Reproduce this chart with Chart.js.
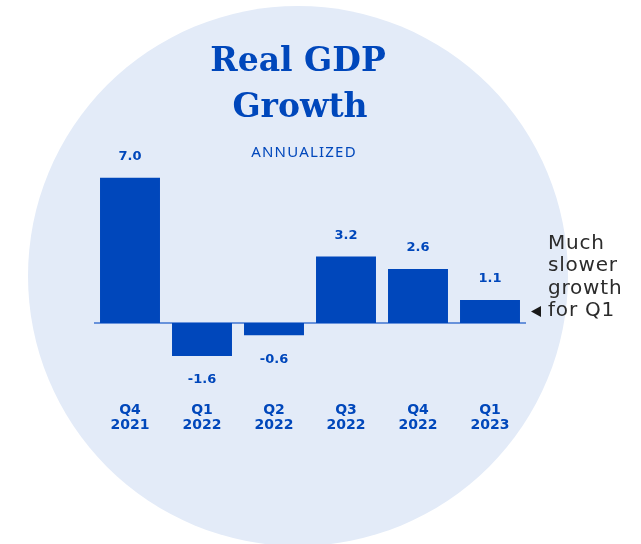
<!DOCTYPE html>
<html>
<head>
<meta charset="utf-8">
<script src="https://cdn.jsdelivr.net/npm/chart.js@4.4.1/dist/chart.umd.min.js"></script>
<style>
  html, body { margin: 0; padding: 0; background: #ffffff; }
  #wrap { width: 641px; height: 544px; }
</style>
</head>
<body>
<div id="wrap"><canvas id="gdpChart" width="641" height="544"></canvas></div>
<script>
// data
const quarters = [["Q4", "2021"], ["Q1", "2022"], ["Q2", "2022"], ["Q3", "2022"], ["Q4", "2022"], ["Q1", "2023"]];
const growth = [7.0, -1.6, -0.6, 3.2, 2.6, 1.1];
const titleLines = ["Real GDP", "Growth"];
const subtitleText = "ANNUALIZED";
const noteLines = ["Much", "slower", "growth", "for Q1"];

const BLUE = "#0047bb";

// light blue disc, headline and side note
const decorPlugin = {
    id: "decor",
    beforeDraw(chart) {
        const ctx = chart.ctx;
        ctx.save();
        ctx.fillStyle = "#e3ebf8";
        ctx.beginPath();
        ctx.arc(298, 276, 270, 0, Math.PI * 2);
        ctx.fill();

        ctx.fillStyle = BLUE;
        ctx.textAlign = "center";
        ctx.textBaseline = "alphabetic";
        ctx.font = "bold 33px 'DejaVu Serif'";
        ctx.fillText(titleLines[0], 298, 71);
        ctx.fillText(titleLines[1], 300, 117);

        ctx.font = "15px 'Noto Sans'";
        ctx.letterSpacing = "1.2px";
        ctx.textBaseline = "middle";
        ctx.fillText(subtitleText, 304, 153);
        ctx.restore();
    },
    beforeDatasetsDraw(chart) {
        const ctx = chart.ctx;
        const area = chart.chartArea;
        const y0 = chart.scales.y.getPixelForValue(0);
        ctx.save();
        ctx.strokeStyle = "#3f74d2";
        ctx.lineWidth = 1.5;
        ctx.beginPath();
        ctx.moveTo(area.left, y0);
        ctx.lineTo(area.right, y0);
        ctx.stroke();
        ctx.restore();
    },
    afterDatasetsDraw(chart) {
        const ctx = chart.ctx;
        const meta = chart.getDatasetMeta(0);
        ctx.save();
        ctx.fillStyle = BLUE;
        ctx.textAlign = "center";
        ctx.textBaseline = "middle";
        ctx.font = "bold 13px 'DejaVu Sans'";
        meta.data.forEach((bar, i) => {
            const v = growth[i];
            const y = v >= 0 ? bar.y - 21 : bar.y + 24;
            ctx.fillText(v.toFixed(1), bar.x, y);
        });

        // note next to the last bar
        const last = meta.data[meta.data.length - 1];
        const ty = chart.scales.y.getPixelForValue(growth[growth.length - 1] / 2);
        ctx.fillStyle = "#1a1a1a";
        ctx.beginPath();
        ctx.moveTo(last.x + 41, ty);
        ctx.lineTo(last.x + 51, ty - 5.5);
        ctx.lineTo(last.x + 51, ty + 5.5);
        ctx.closePath();
        ctx.fill();

        ctx.fillStyle = "#2b2b2b";
        ctx.textAlign = "left";
        ctx.textBaseline = "alphabetic";
        ctx.font = "20px 'DejaVu Sans'";
        ctx.letterSpacing = "0.8px";
        noteLines.forEach((line, i) => {
            ctx.fillText(line, last.x + 58, ty + 5 - (noteLines.length - 1 - i) * 22.5);
        });
        ctx.restore();
    }
};

new Chart(document.getElementById("gdpChart"), {
    type: "bar",
    data: {
        labels: quarters,
        datasets: [{
            data: growth,
            backgroundColor: BLUE,
            borderWidth: 0,
            categoryPercentage: 1,
            barPercentage: 0.833
        }]
    },
    options: {
        responsive: false,
        animation: false,
        layout: { padding: { left: 94, right: 115, top: 157, bottom: 93.5 } },
        plugins: {
            legend: { display: false },
            tooltip: { enabled: false },
            title: { display: false }
        },
        scales: {
            x: {
                grid: { display: false, drawTicks: false },
                border: { display: false },
                ticks: {
                    color: BLUE,
                    padding: 18,
                    font: { family: "'DejaVu Sans'", size: 14, weight: "bold", lineHeight: 1.05 }
                }
            },
            y: {
                display: false,
                min: -3,
                max: 8
            }
        }
    },
    plugins: [decorPlugin]
});
</script>
</body>
</html>
